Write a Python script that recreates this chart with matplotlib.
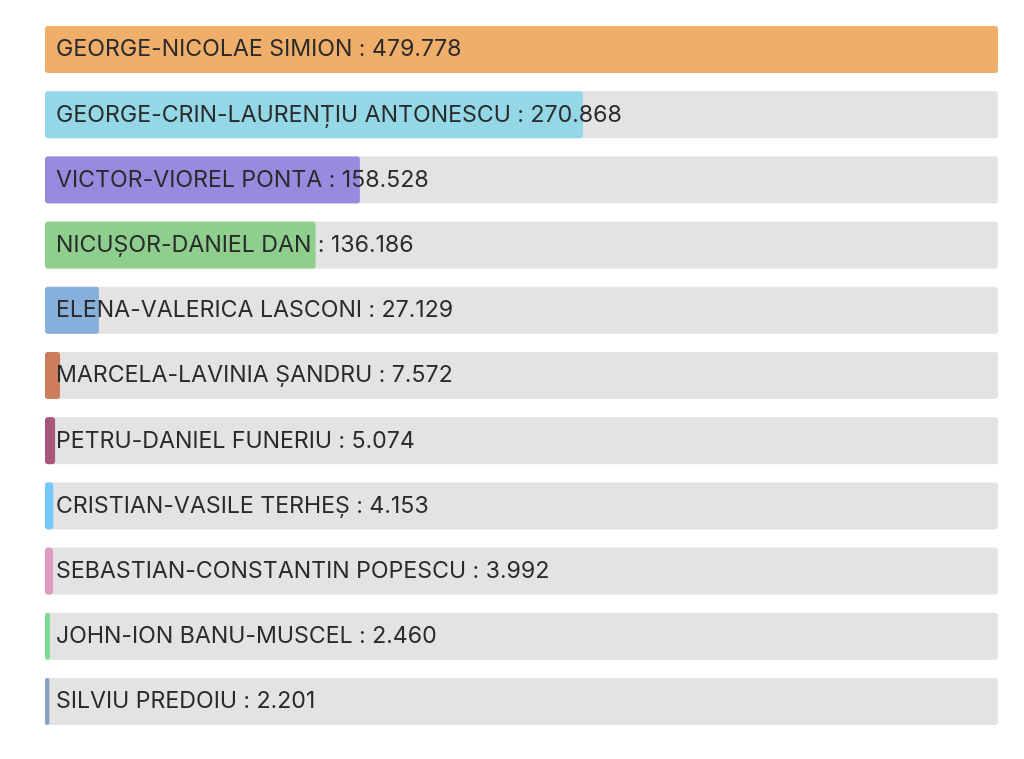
import matplotlib
matplotlib.use("Agg")
import matplotlib.pyplot as plt
from matplotlib.patches import FancyBboxPatch
from matplotlib.transforms import offset_copy

names = [
    "GEORGE-NICOLAE SIMION",
    "GEORGE-CRIN-LAURENȚIU ANTONESCU",
    "VICTOR-VIOREL PONTA",
    "NICUȘOR-DANIEL DAN",
    "ELENA-VALERICA LASCONI",
    "MARCELA-LAVINIA ȘANDRU",
    "PETRU-DANIEL FUNERIU",
    "CRISTIAN-VASILE TERHEȘ",
    "SEBASTIAN-CONSTANTIN POPESCU",
    "JOHN-ION BANU-MUSCEL",
    "SILVIU PREDOIU",
]
votes = [479778, 270868, 158528, 136186, 27129, 7572, 5074, 4153, 3992, 2460, 2201]
colors = ["#F0AE6B", "#94D8E8", "#9A8ADF", "#8ECF8E", "#86AFDC", "#CD7D5C",
          "#A8567A", "#74C8F7", "#E09AC0", "#7DDB94", "#8AA2C4"]
track_color = "#E3E3E3"

W, H = 1024, 759
fig = plt.figure(figsize=(W / 100, H / 100), dpi=100)
ax = fig.add_axes([0, 0, 1, 1])
ax.axis("off")

vmax = max(votes)
left_px, right_px = 45, 998
k = vmax / (right_px - left_px)          # votes per pixel
pitch = 65.2                              # px per row
first_center = 49.5
ax.set_xlim(-left_px * k, (W - left_px) * k)
ax.set_ylim((H - first_center) / pitch, -first_center / pitch)

bar_h = 47 / pitch
aspect = (1 / pitch) / k                  # y units per x unit at equal px
r_px = 3

def rbar(x0, y, w, color, z):
    r = min(r_px * k, w / 2)
    p = FancyBboxPatch((x0, y - bar_h / 2), w, bar_h,
                       boxstyle=f"round,pad=0,rounding_size={r}",
                       mutation_aspect=aspect, fc=color, ec="none", zorder=z)
    ax.add_patch(p)

txt_tr = offset_copy(ax.transData, fig=fig, x=11, y=1.5, units="dots")
for i, (n, v, c) in enumerate(zip(names, votes, colors)):
    rbar(0, i, vmax, track_color, 1)
    rbar(0, i, v, c, 2)
    label = f"{n} : {v:,}".replace(",", ".")
    ax.text(0, i, label, transform=txt_tr, ha="left", va="center_baseline",
            fontsize=16.7, color="#2A2A2A", family=["Inter", "DejaVu Sans"], zorder=3)

fig.savefig("out.png", dpi=100, facecolor="white")
